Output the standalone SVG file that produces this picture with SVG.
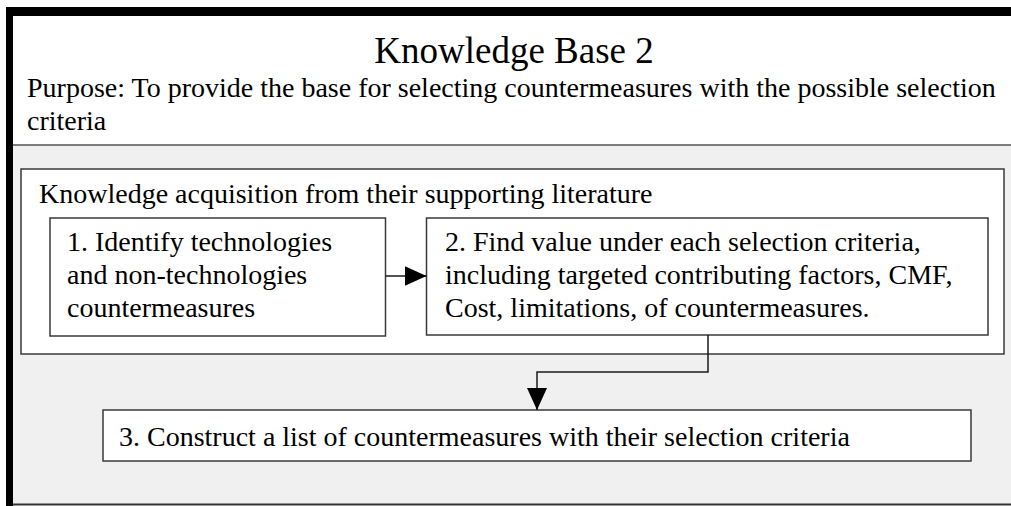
<svg xmlns="http://www.w3.org/2000/svg" width="1011" height="506" viewBox="0 0 1011 506">
<style>
  .t { font-family: "Liberation Serif", "Times New Roman", serif; fill: #000; font-size: 28px; }
  .box { fill: #fff; stroke: #3a3a3a; stroke-width: 1.5; }
  .conn { fill: none; stroke: #1a1a1a; stroke-width: 1.5; }
</style>
<defs>
  <marker id="arr" markerWidth="22" markerHeight="20" refX="22" refY="10" orient="auto" markerUnits="userSpaceOnUse">
    <path d="M0,0 L22,10 L0,20 Z" fill="#000"/>
  </marker>
</defs>
<rect x="0" y="0" width="1011" height="506" fill="#fff"/>
<g id="frame">
  <rect x="13" y="16" width="998" height="129" fill="#fff"/>
  <rect x="13" y="145" width="998" height="359" fill="#f0f0f0"/>
  <line x1="13" y1="145" x2="1011" y2="145" stroke="#555" stroke-width="1.5"/>
  <line x1="13" y1="504.5" x2="1011" y2="504.5" stroke="#333" stroke-width="2"/>
  <rect x="6" y="7" width="1005" height="9" fill="#000"/>
  <rect x="6" y="7" width="7" height="499" fill="#000"/>
</g>
<g id="header">
  <text class="t" x="514" y="63" style="font-size:37px" text-anchor="middle">Knowledge Base 2</text>
  <text class="t" x="27" y="97">Purpose: To provide the base for selecting countermeasures with the possible selection</text>
  <text class="t" x="27" y="130">criteria</text>
</g>
<g id="acquisition">
  <rect class="box" x="21" y="169" width="983" height="185"/>
  <text class="t" x="39" y="203">Knowledge acquisition from their supporting literature</text>
</g>
<g id="step1">
  <rect class="box" x="50" y="218" width="335.5" height="118"/>
  <text class="t" x="67" y="251">1. Identify technologies</text>
  <text class="t" x="67" y="284">and non-technologies</text>
  <text class="t" x="67" y="317">countermeasures</text>
</g>
<g id="step2">
  <rect class="box" x="426.5" y="218" width="561.5" height="117"/>
  <text class="t" x="445" y="251">2. Find value under each selection criteria,</text>
  <text class="t" x="445" y="284">including targeted contributing factors, CMF,</text>
  <text class="t" x="445" y="317">Cost, limitations, of countermeasures.</text>
</g>
<g id="step3">
  <rect class="box" x="103" y="410" width="868" height="51"/>
  <text class="t" x="119" y="446">3. Construct a list of countermeasures with their selection criteria</text>
</g>
<g id="connectors">
  <line class="conn" x1="385.5" y1="276" x2="426.5" y2="276" marker-end="url(#arr)"/>
  <polyline class="conn" points="708,335 708,372 537,372 537,410" marker-end="url(#arr)"/>
</g>
</svg>
